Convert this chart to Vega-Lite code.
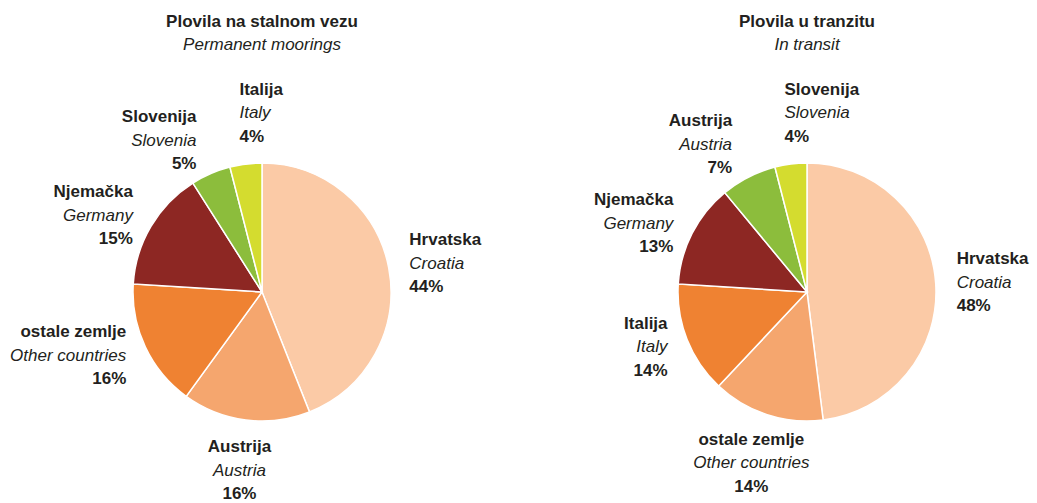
{
  "$schema": "https://vega.github.io/schema/vega-lite/v6.json",
  "padding": {"left": 0, "top": 13, "right": 0, "bottom": 0},
  "background": "white",
  "datasets": {
    "stalni": [
      {"hr": "Hrvatska", "en": "Croatia", "share": 0.44, "k": 1},
      {"hr": "Austrija", "en": "Austria", "share": 0.16, "k": 2},
      {"hr": "ostale zemlje", "en": "Other countries", "share": 0.16, "k": 3},
      {"hr": "Njemačka", "en": "Germany", "share": 0.15, "k": 4},
      {"hr": "Slovenija", "en": "Slovenia", "share": 0.05, "k": 5},
      {"hr": "Italija", "en": "Italy", "share": 0.04, "k": 6}
    ],
    "tranzit": [
      {"hr": "Hrvatska", "en": "Croatia", "share": 0.48, "k": 1},
      {"hr": "ostale zemlje", "en": "Other countries", "share": 0.14, "k": 2},
      {"hr": "Italija", "en": "Italy", "share": 0.14, "k": 3},
      {"hr": "Njemačka", "en": "Germany", "share": 0.13, "k": 4},
      {"hr": "Austrija", "en": "Austria", "share": 0.07, "k": 5},
      {"hr": "Slovenija", "en": "Slovenia", "share": 0.04, "k": 6}
    ]
  },
  "hconcat": [
    {
      "width": 524,
      "height": 424,
      "data": {"name": "stalni"},
      "title": {"text": "Plovila na stalnom vezu", "subtitle": "Permanent moorings"},
      "encoding": {
        "theta": {"field": "share", "type": "quantitative", "stack": true, "scale": {"domain": [0, 1]}},
        "order": {"field": "k", "type": "quantitative", "sort": "ascending"}
      },
      "layer": [
        {
          "mark": {"type": "arc", "outerRadius": 129, "stroke": "white", "strokeWidth": 1.5},
          "encoding": {
            "color": {"field": "k", "type": "ordinal", "legend": null,
              "scale": {"domain": [1, 2, 3, 4, 5, 6], "range": ["#fbcaa6", "#f5a66e", "#ef8232", "#8d2723", "#8cbd3c", "#d4dc2f"]}}
          }
        },
        {
          "mark": {"type": "text", "font": "Liberation Sans", "fontSize": 17, "fontWeight": "bold", "color": "#231f20", "baseline": "middle", "dy": -23.5,
            "radius": {"expr": "(datum.share_start + datum.share_end) / 2 < 0.45 ? 150 : (datum.share_start + datum.share_end) / 2 < 0.6 ? 180 : (datum.share_start + datum.share_end) / 2 < 0.88 ? 150 : (datum.share_start + datum.share_end) / 2 < 0.95 ? 165 : 180"},
            "align": {"expr": "(datum.share_start + datum.share_end) / 2 < 0.45 ? 'left' : (datum.share_start + datum.share_end) / 2 < 0.6 ? 'center' : (datum.share_start + datum.share_end) / 2 < 0.95 ? 'right' : 'left'"}},
          "encoding": {"text": {"field": "hr", "type": "nominal"}}
        },
        {
          "mark": {"type": "text", "font": "Liberation Sans", "fontSize": 17, "fontStyle": "italic", "color": "#231f20", "baseline": "middle", "dy": 0,
            "radius": {"expr": "(datum.share_start + datum.share_end) / 2 < 0.45 ? 150 : (datum.share_start + datum.share_end) / 2 < 0.6 ? 180 : (datum.share_start + datum.share_end) / 2 < 0.88 ? 150 : (datum.share_start + datum.share_end) / 2 < 0.95 ? 165 : 180"},
            "align": {"expr": "(datum.share_start + datum.share_end) / 2 < 0.45 ? 'left' : (datum.share_start + datum.share_end) / 2 < 0.6 ? 'center' : (datum.share_start + datum.share_end) / 2 < 0.95 ? 'right' : 'left'"}},
          "encoding": {"text": {"field": "en", "type": "nominal"}}
        },
        {
          "mark": {"type": "text", "font": "Liberation Sans", "fontSize": 17, "fontWeight": "bold", "color": "#231f20", "baseline": "middle", "dy": 23.5,
            "radius": {"expr": "(datum.share_start + datum.share_end) / 2 < 0.45 ? 150 : (datum.share_start + datum.share_end) / 2 < 0.6 ? 180 : (datum.share_start + datum.share_end) / 2 < 0.88 ? 150 : (datum.share_start + datum.share_end) / 2 < 0.95 ? 165 : 180"},
            "align": {"expr": "(datum.share_start + datum.share_end) / 2 < 0.45 ? 'left' : (datum.share_start + datum.share_end) / 2 < 0.6 ? 'center' : (datum.share_start + datum.share_end) / 2 < 0.95 ? 'right' : 'left'"}},
          "encoding": {"text": {"field": "share", "type": "quantitative", "format": ".0%"}}
        }
      ]
    },
    {
      "width": 460,
      "height": 424,
      "data": {"name": "tranzit"},
      "title": {"text": "Plovila u tranzitu", "subtitle": "In transit"},
      "encoding": {
        "theta": {"field": "share", "type": "quantitative", "stack": true, "scale": {"domain": [0, 1]}},
        "order": {"field": "k", "type": "quantitative", "sort": "ascending"}
      },
      "layer": [
        {
          "mark": {"type": "arc", "outerRadius": 129, "stroke": "white", "strokeWidth": 1.5},
          "encoding": {
            "color": {"field": "k", "type": "ordinal", "legend": null,
              "scale": {"domain": [1, 2, 3, 4, 5, 6], "range": ["#fbcaa6", "#f5a66e", "#ef8232", "#8d2723", "#8cbd3c", "#d4dc2f"]}}
          }
        },
        {
          "mark": {"type": "text", "font": "Liberation Sans", "fontSize": 17, "fontWeight": "bold", "color": "#231f20", "baseline": "middle", "dy": -23.5,
            "radius": {"expr": "(datum.share_start + datum.share_end) / 2 < 0.45 ? 150 : (datum.share_start + datum.share_end) / 2 < 0.6 ? 180 : (datum.share_start + datum.share_end) / 2 < 0.88 ? 150 : (datum.share_start + datum.share_end) / 2 < 0.95 ? 165 : 180"},
            "align": {"expr": "(datum.share_start + datum.share_end) / 2 < 0.45 ? 'left' : (datum.share_start + datum.share_end) / 2 < 0.6 ? 'center' : (datum.share_start + datum.share_end) / 2 < 0.95 ? 'right' : 'left'"}},
          "encoding": {"text": {"field": "hr", "type": "nominal"}}
        },
        {
          "mark": {"type": "text", "font": "Liberation Sans", "fontSize": 17, "fontStyle": "italic", "color": "#231f20", "baseline": "middle", "dy": 0,
            "radius": {"expr": "(datum.share_start + datum.share_end) / 2 < 0.45 ? 150 : (datum.share_start + datum.share_end) / 2 < 0.6 ? 180 : (datum.share_start + datum.share_end) / 2 < 0.88 ? 150 : (datum.share_start + datum.share_end) / 2 < 0.95 ? 165 : 180"},
            "align": {"expr": "(datum.share_start + datum.share_end) / 2 < 0.45 ? 'left' : (datum.share_start + datum.share_end) / 2 < 0.6 ? 'center' : (datum.share_start + datum.share_end) / 2 < 0.95 ? 'right' : 'left'"}},
          "encoding": {"text": {"field": "en", "type": "nominal"}}
        },
        {
          "mark": {"type": "text", "font": "Liberation Sans", "fontSize": 17, "fontWeight": "bold", "color": "#231f20", "baseline": "middle", "dy": 23.5,
            "radius": {"expr": "(datum.share_start + datum.share_end) / 2 < 0.45 ? 150 : (datum.share_start + datum.share_end) / 2 < 0.6 ? 180 : (datum.share_start + datum.share_end) / 2 < 0.88 ? 150 : (datum.share_start + datum.share_end) / 2 < 0.95 ? 165 : 180"},
            "align": {"expr": "(datum.share_start + datum.share_end) / 2 < 0.45 ? 'left' : (datum.share_start + datum.share_end) / 2 < 0.6 ? 'center' : (datum.share_start + datum.share_end) / 2 < 0.95 ? 'right' : 'left'"}},
          "encoding": {"text": {"field": "share", "type": "quantitative", "format": ".0%"}}
        }
      ]
    }
  ],
  "spacing": 53,
  "config": {
    "view": {"stroke": null},
    "title": {
      "font": "Liberation Sans", "fontSize": 17, "fontWeight": "bold", "color": "#231f20",
      "subtitleFont": "Liberation Sans", "subtitleFontSize": 17, "subtitleFontStyle": "italic", "subtitleFontWeight": "normal", "subtitleColor": "#231f20",
      "subtitlePadding": 6, "anchor": "middle", "frame": "group", "offset": 26
    }
  }
}
